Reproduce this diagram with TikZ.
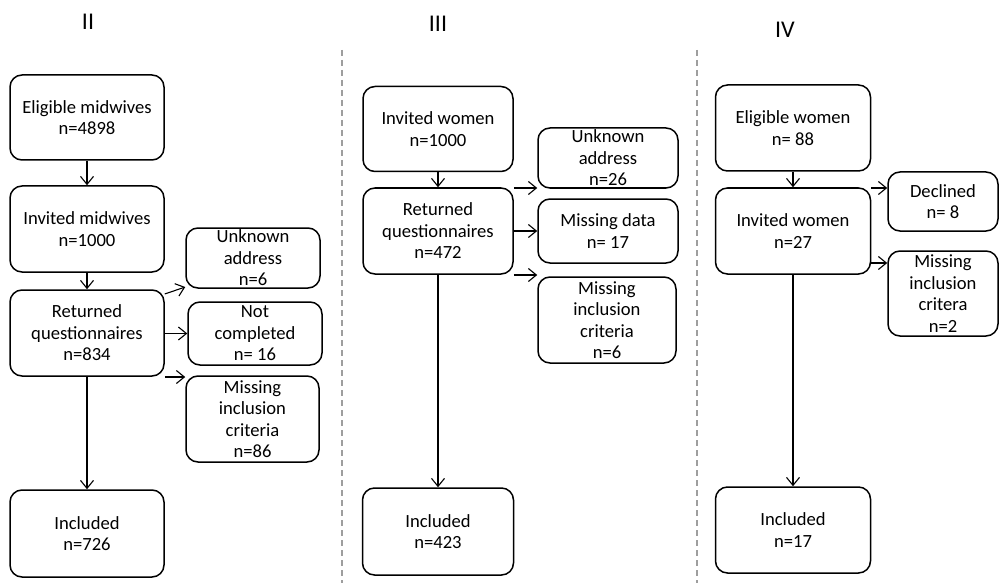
\documentclass[tikz,border=0pt]{standalone}
\usepackage{fontspec}
\setmainfont{Carlito}
\usetikzlibrary{arrows.meta}
\tikzset{
  box/.style={draw=black, line width=1.5pt, rounded corners=12pt, align=center,
    inner sep=0pt, font=\fontsize{18.6}{21.5}\selectfont},
  arr/.style={draw=black, line width=1.1pt, -{Straight Barb[length=8pt,width=13pt,line width=1.1pt]}},
  divider/.style={draw=black!38, line width=1.4pt, dash pattern=on 6pt off 4pt},
  title/.style={font=\fontsize{24}{28}\selectfont, inner sep=0pt}
}
\begin{document}
\begin{tikzpicture}[x=1pt,y=-1pt]
\useasboundingbox (0,0) rectangle (999,583);
% dividers
\draw[divider] (342,50) -- (342,583);
\draw[divider] (697,50) -- (697,583);
% titles
\node[title] (t2) at (88,22) {II};
\node[title] (t3) at (438,24) {III};
\node[title] (t4) at (785,30) {IV};
% panel II
\node[box, minimum width=154pt, minimum height=85pt] (el2) at (87,117.5) {Eligible midwives\\n=4898};
\node[box, minimum width=154pt, minimum height=86pt] (inv2) at (87,229) {Invited midwives\\n=1000};
\node[box, minimum width=154pt, minimum height=86pt] (ret2) at (87,333) {Returned\\questionnaires\\n=834};
\node[box, minimum width=134pt, minimum height=60pt] (ua2) at (253,258) {Unknown\\address\\n=6};
\node[box, minimum width=134pt, minimum height=63pt] (nc2) at (255,333.5) {Not\\completed\\n= 16};
\node[box, minimum width=133pt, minimum height=86pt] (mi2) at (252.5,419) {Missing\\inclusion\\criteria\\n=86};
\node[box, minimum width=154pt, minimum height=87pt] (inc2) at (87,533.5) {Included\\n=726};
\draw[arr] (el2) -- (inv2);
\draw[arr] (inv2) -- (ret2);
\draw[arr] (ret2) -- (inc2);
\draw[arr] (ret2.east |- 0,294) -- (ua2.west |- 0,287);
\draw[arr] (ret2.east |- nc2.west) -- (nc2.west);
\draw[arr] (ret2.east |- 0,377) -- (mi2.west |- 0,377);
% panel III
\node[box, minimum width=150pt, minimum height=85pt] (inv3) at (438,129) {Invited women\\n=1000};
\node[box, minimum width=150pt, minimum height=86pt] (ret3) at (438,231) {Returned\\questionnaires\\n=472};
\node[box, minimum width=140pt, minimum height=60pt] (ua3) at (608,158) {Unknown\\address\\n=26};
\node[box, minimum width=140pt, minimum height=64pt] (md3) at (608,231) {Missing data\\n= 17};
\node[box, minimum width=138pt, minimum height=86pt] (mi3) at (607,320) {Missing\\inclusion\\criteria\\n=6};
\node[box, minimum width=151pt, minimum height=87pt] (inc3) at (438,531.5) {Included\\n=423};
\draw[arr] (inv3) -- (ret3);
\draw[arr] (ret3) -- (inc3);
\draw[arr] (ret3.east |- 0,188) -- (ua3.west |- 0,188);
\draw[arr] (ret3.east |- md3.west) -- (md3.west);
\draw[arr] (ret3.east |- 0,275) -- (mi3.west |- 0,275);
% panel IV
\node[box, minimum width=155pt, minimum height=86pt] (el4) at (793,128) {Eligible women\\n= 88};
\node[box, minimum width=155pt, minimum height=86pt] (inv4) at (793,231) {Invited women\\n=27};
\node[box, minimum width=110pt, minimum height=59pt] (de4) at (943,201.5) {Declined\\n= 8};
\node[box, minimum width=110pt, minimum height=85pt] (mi4) at (943,293.5) {Missing\\inclusion\\critera\\n=2};
\node[box, minimum width=155pt, minimum height=86pt] (inc4) at (793,530) {Included\\n=17};
\draw[arr] (el4) -- (inv4);
\draw[arr] (inv4) -- (inc4);
\draw[arr] (inv4.east |- 0,188) -- (de4.west |- 0,188);
\draw[arr] (inv4.east |- 0,263) -- (mi4.west |- 0,263);
\end{tikzpicture}
\end{document}
